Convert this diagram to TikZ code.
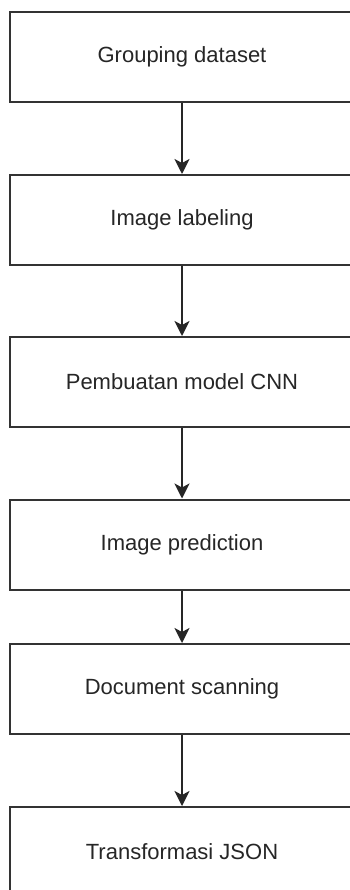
\documentclass[tikz,border=0pt]{standalone}
\usepackage{fontspec}
\setmainfont{Liberation Sans}
\usetikzlibrary{arrows.meta}
\begin{document}
\begin{tikzpicture}[x=1pt,y=-1pt,
  stepbox/.style={draw=black!80, line width=2pt, fill=white, minimum width=344pt, minimum height=90pt, inner sep=0pt, font=\fontsize{22}{26}\selectfont, text=black!85},
  flow/.style={draw=black!85, line width=2pt, -{Stealth[length=15pt,width=15pt,inset=4pt]}}]
\useasboundingbox (0,0) rectangle (350,890);
\clip (0,0) rectangle (350,890);
\fill[white] (0,0) rectangle (350,890);
\node[stepbox] (a) at (182,57) {Grouping dataset};
\node[stepbox] (b) at (182,220) {Image labeling};
\node[stepbox] (c) at (182,382) {Pembuatan model CNN};
\node[stepbox] (d) at (182,544.5) {Image prediction};
\node[stepbox] (e) at (182,689) {Document scanning};
\node[stepbox] (f) at (182,852) {Transformasi JSON};
\draw[flow] (a) -- (b);
\draw[flow] (b) -- (c);
\draw[flow] (c) -- (d);
\draw[flow] (d) -- (e);
\draw[flow] (e) -- (f);
\end{tikzpicture}
\end{document}
